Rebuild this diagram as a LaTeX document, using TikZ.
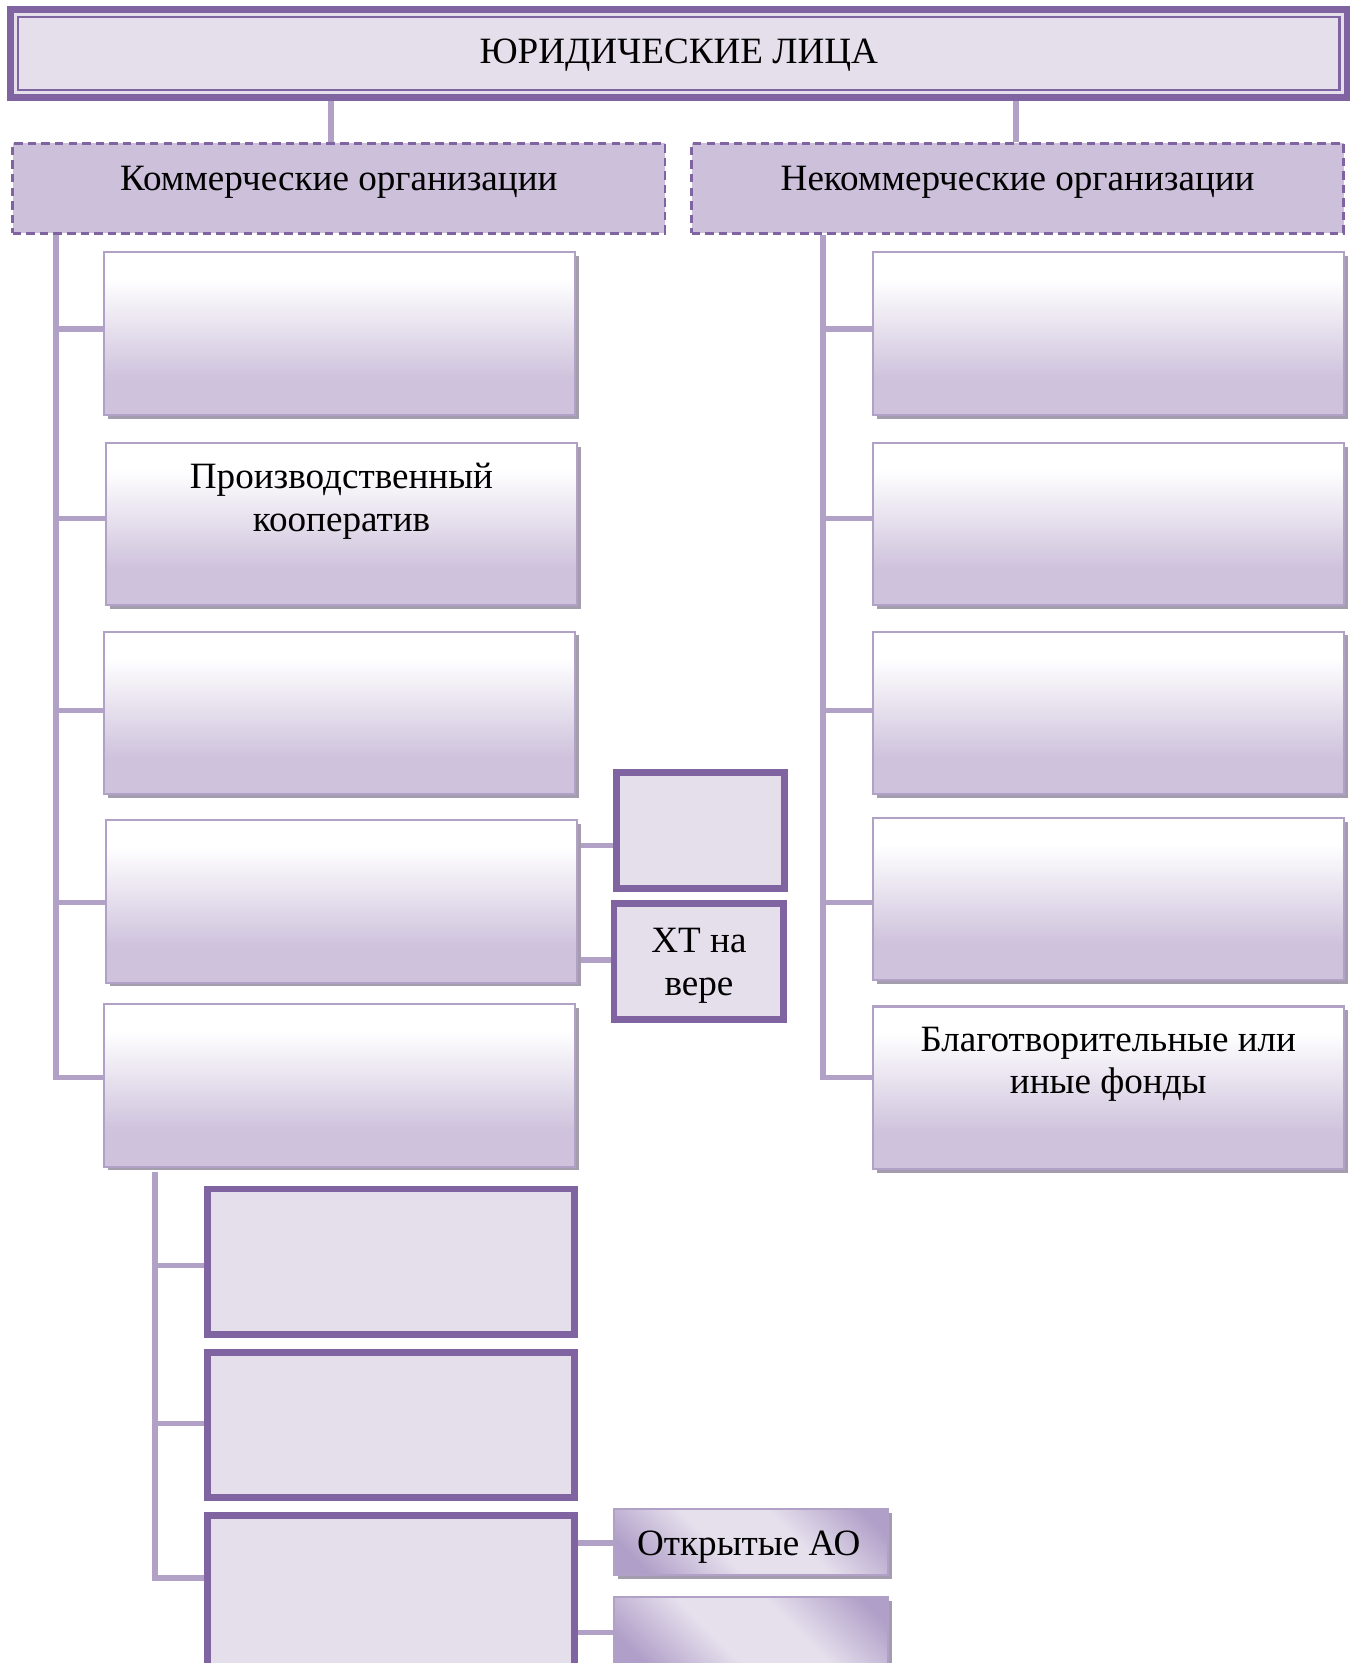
\documentclass[tikz,border=0pt]{standalone}
\usepackage{fontspec}
\setmainfont{Liberation Serif}
\usetikzlibrary{shadows}
\definecolor{dpurple}{HTML}{8064A2}
\definecolor{lavline}{HTML}{B2A1C7}
\definecolor{lightfill}{HTML}{E5DFEC}
\definecolor{commfill}{HTML}{CCC0DA}
\definecolor{gbot}{HTML}{CEC2DC}
\definecolor{shadowc}{HTML}{A39DAD}
\definecolor{ddark}{HTML}{B09FC8}
\definecolor{dlight}{HTML}{E6E0ED}
\pgfdeclareverticalshading{gshade}{100bp}{color(0bp)=(gbot); color(36bp)=(gbot); color(67bp)=(white); color(100bp)=(white)}
\pgfdeclarehorizontalshading{dshade}{100bp}{color(0bp)=(ddark); color(22bp)=(ddark); color(42bp)=(dlight); color(60bp)=(dlight); color(80bp)=(ddark); color(100bp)=(ddark)}
\pgfdeclarelayer{bg}
\pgfsetlayers{bg,main}
\newcommand\dfont{\fontsize{17.5pt}{20pt}\selectfont}
\begin{document}
\begin{tikzpicture}[x=0.5pt,y=-0.5pt,
  every node/.style={font=\dfont, text=black},
  conn/.style={draw=lavline, line width=2.6pt},
  gbox/.style={draw=lavline, line width=1pt, shade, shading=gshade, inner sep=0pt,
    minimum width=222pt, minimum height=76.5pt,
    drop shadow={shadow xshift=1.8pt, shadow yshift=-1.8pt, fill=shadowc, opacity=1}},
  dbox/.style={draw=lavline, line width=1pt, shade, shading=dshade, shading angle=45, inner sep=0pt,
    minimum width=129pt,
    drop shadow={shadow xshift=1.8pt, shadow yshift=-1.8pt, fill=shadowc, opacity=1}},
  tbox/.style={draw=dpurple, line width=3.2pt, fill=lightfill, inner sep=0pt},
  cbox/.style={draw=dpurple, line width=1.4pt, dash pattern=on 4pt off 2.4pt, fill=commfill, inner sep=0pt,
    minimum width=307.5pt, minimum height=42.5pt},
  txt/.style={inner sep=0pt, align=center}]
\useasboundingbox (0,0) rectangle (1279,1568);
\clip (0,0) rectangle (1279,1568);

% title
\node[draw=dpurple, line width=3pt, fill=lightfill, minimum width=630pt, minimum height=41.5pt, inner sep=0pt] (topout) at (640,50.5) {};
\node[draw=dpurple, line width=1pt, minimum width=623pt, minimum height=34.5pt, inner sep=0pt] (top) at (640,50.5) {};
\node[txt] (topT) at (640,52) {ЮРИДИЧЕСКИЕ ЛИЦА};

% level 2
\node[cbox] (kom) at (319.5,177.5) {};
\node[txt] (komT) at (319.5,172) {Коммерческие организации};
\node[cbox] (nkom) at (959.5,177.5) {};
\node[txt] (nkomT) at (959.5,172) {Некоммерческие организации};

% left column
\node[gbox] (L1) at (320,314.5) {};
\node[gbox] (L2) at (322,494) {};
\node[txt] (L2T) at (322,472.5) {Производственный\\кооператив};
\node[gbox] (L3) at (320,672) {};
\node[gbox] (L4) at (322,850) {};
\node[gbox] (L5) at (320,1023.5) {};

% right column
\node[gbox] (R1) at (1045,314.5) {};
\node[gbox] (R2) at (1045,494) {};
\node[gbox] (R3) at (1045,672) {};
\node[gbox] (R4) at (1045,847.5) {};
\node[gbox] (R5) at (1045,1025.5) {};
\node[txt] (R5T) at (1045,1003.5) {Благотворительные или\\иные фонды};

% partnerships
\node[tbox, minimum width=79.5pt, minimum height=55pt] (X1) at (660.5,783) {};
\node[tbox, minimum width=80pt, minimum height=54.5pt] (X2) at (659,906.5) {};
\node[txt] (X2T) at (659,910.5) {ХТ на\\вере};

% companies
\node[tbox, minimum width=173pt, minimum height=68.5pt] (A) at (369,1189.5) {};
\node[tbox, minimum width=173pt, minimum height=68.5pt] (B) at (369,1343.5) {};
\node[tbox, minimum width=173pt, minimum height=80.5pt] (C) at (369,1509.5) {};
\node[dbox, minimum height=31pt] (OA) at (708,1454) {};
\node[txt] (OAT) at (706,1458.5) {Открытые АО};
\node[dbox, minimum height=34pt] (OB) at (708,1540) {};

% coordinates for connectors
\coordinate (kx) at (312,0);
\coordinate (nx) at (958,0);
\coordinate (bl1) at (53,310);
\coordinate (bl2) at (53,489);
\coordinate (bl3) at (53,670);
\coordinate (bl4) at (53,851);
\coordinate (bl5) at (53,1016);
\coordinate (br1) at (776,310);
\coordinate (br2) at (776,489);
\coordinate (br3) at (776,670);
\coordinate (br4) at (776,851);
\coordinate (br5) at (776,1016);
\coordinate (bd1) at (146,1193);
\coordinate (bd2) at (146,1342);
\coordinate (bd3) at (146,1488);
\coordinate (c1) at (0,797);
\coordinate (c2) at (0,905);
\coordinate (c3) at (0,1455);
\coordinate (c4) at (0,1539);

\begin{pgfonlayer}{bg}
\draw[conn] (topout.south -| kx) -- (kom.north -| kx);
\draw[conn] (topout.south -| nx) -- (nkom.north -| nx);
\draw[conn] (kom.south -| bl1) -- (bl5) -- (L5.west |- bl5);
\draw[conn] (bl1) -- (L1.west |- bl1);
\draw[conn] (bl2) -- (L2.west |- bl2);
\draw[conn] (bl3) -- (L3.west |- bl3);
\draw[conn] (bl4) -- (L4.west |- bl4);
\draw[conn] (nkom.south -| br1) -- (br5) -- (R5.west |- br5);
\draw[conn] (br1) -- (R1.west |- br1);
\draw[conn] (br2) -- (R2.west |- br2);
\draw[conn] (br3) -- (R3.west |- br3);
\draw[conn] (br4) -- (R4.west |- br4);
\draw[conn] ([yshift=-2pt]L5.south -| bd1) -- (bd3) -- (C.west |- bd3);
\draw[conn] (bd1) -- (A.west |- bd1);
\draw[conn] (bd2) -- (B.west |- bd2);
\draw[conn] (L4.east |- c1) -- (X1.west |- c1);
\draw[conn] (L4.east |- c2) -- (X2.west |- c2);
\draw[conn] (C.east |- c3) -- (OA.west |- c3);
\draw[conn] (C.east |- c4) -- (OB.west |- c4);
\end{pgfonlayer}
\end{tikzpicture}
\end{document}
